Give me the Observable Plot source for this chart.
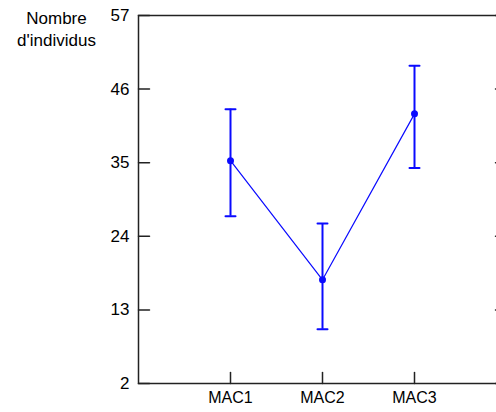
<!DOCTYPE html>
<html>
<head>
<meta charset="utf-8">
<script src="https://cdn.jsdelivr.net/npm/d3@7"></script>
<script src="https://cdn.jsdelivr.net/npm/@observablehq/plot@0.6"></script>
<style>
  html, body { margin: 0; padding: 0; background: white; overflow: hidden; }
  svg { overflow: hidden !important; }
</style>
</head>
<body>
<div id="chart"></div>
<script>
const categories = ["MAC1", "MAC2", "MAC3"];
const positions = [1, 2, 3];
const means = [35.3, 17.5, 42.3];
const upper = [43.0, 25.9, 49.5];
const lower = [27.0, 10.1, 34.2];
const yTicks = [2, 13, 24, 35, 46, 57];
const yLabel = "Nombre\nd'individus";

const data = categories.map((c, i) => ({
  cat: c, x: positions[i], mean: means[i], hi: upper[i], lo: lower[i]
}));

const blue = "#0a0aff";
const axisColor = "#222";
const segment = {
  draw(context, l) { context.moveTo(0, 0); context.lineTo(0, -l); }
};

const chart = Plot.plot({
  width: 496,
  height: 412,
  marginLeft: 138,
  marginRight: -10,
  marginTop: 15,
  marginBottom: 29,
  style: { fontFamily: "Liberation Sans, Arial, sans-serif", fontSize: "17px", color: "black", overflow: "hidden" },
  x: { domain: [0, 4], axis: null },
  y: { domain: [2, 57], axis: null },
  marks: [
    Plot.frame({ stroke: axisColor, strokeWidth: 1.5 }),
    // left axis labels
    Plot.axisY({ anchor: "left", ticks: yTicks, tickSize: 0, tickPadding: 9, fontSize: 17, label: null }),
    // inward ticks (left, right, bottom)
    Plot.vector(yTicks, { y: (d) => d, frameAnchor: "left", rotate: 90, length: 11, anchor: "start", shape: segment, stroke: axisColor, strokeWidth: 1.5 }),
    Plot.vector(yTicks, { y: (d) => d, frameAnchor: "right", rotate: -90, length: 11, anchor: "start", shape: segment, stroke: axisColor, strokeWidth: 1.5 }),
    Plot.vector(positions, { x: (d) => d, frameAnchor: "bottom", rotate: 0, length: 11, anchor: "start", shape: segment, stroke: axisColor, strokeWidth: 1.5 }),
    // bottom labels
    Plot.axisX({ anchor: "bottom", ticks: positions, tickSize: 0, tickPadding: 8, fontSize: 16, letterSpacing: "1.5px", tickFormat: (d) => categories[positions.indexOf(d)], label: null }),
    // y label
    Plot.text([yLabel], { frameAnchor: "top-left", dx: -82, dy: 12, text: (d) => d, textAnchor: "middle", lineAnchor: "middle", lineHeight: 1.3, fontSize: 17, fill: "black" }),
    // error bars
    Plot.ruleX(data, { x: "x", y1: "lo", y2: "hi", stroke: blue, strokeWidth: 2 }),
    Plot.vector(data, { x: "x", y: "hi", length: 10, rotate: 90, anchor: "middle", shape: segment, stroke: blue, strokeWidth: 2 }),
    Plot.vector(data, { x: "x", y: "lo", length: 10, rotate: 90, anchor: "middle", shape: segment, stroke: blue, strokeWidth: 2 }),
    // connecting line and points
    Plot.line(data, { x: "x", y: "mean", stroke: blue, strokeWidth: 1.2 }),
    Plot.dot(data, { x: "x", y: "mean", r: 3.5, fill: blue, stroke: "none" })
  ]
});
document.getElementById("chart").appendChild(chart);
</script>
</body>
</html>
